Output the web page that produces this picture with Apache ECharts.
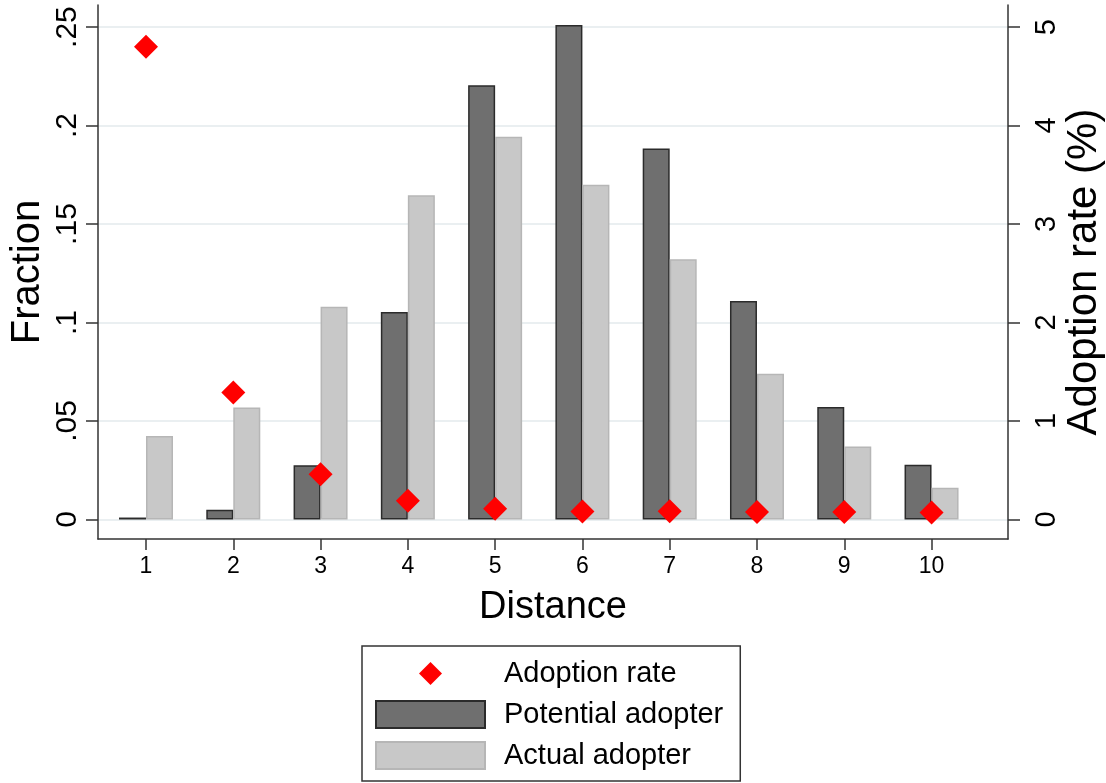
<!DOCTYPE html>
<html>
<head>
<meta charset="utf-8">
<script src="https://cdn.jsdelivr.net/npm/echarts@6/dist/echarts.min.js"></script>
<style>html,body{margin:0;padding:0;background:#fff;}#chart{width:1106px;height:783px;}</style>
</head>
<body>
<div id="chart"></div>
<script>
// ---- data ----
const distances = [1, 2, 3, 4, 5, 6, 7, 8, 9, 10];
const potentialAdopter = [0.001, 0.005, 0.0275, 0.1053, 0.2204, 0.2510, 0.1884, 0.1109, 0.0571, 0.0278];
const actualAdopter = [0.0424, 0.0568, 0.1080, 0.1646, 0.1943, 0.1700, 0.1321, 0.0740, 0.0370, 0.0161];
const adoptionRate = [4.80, 1.29, 0.46, 0.19, 0.11, 0.08, 0.085, 0.075, 0.075, 0.07];
const fractionTicks = [0, 0.05, 0.1, 0.15, 0.2, 0.25];
const fractionTickLabels = ['0', '.05', '.1', '.15', '.2', '.25'];
const rateTicks = [0, 1, 2, 3, 4, 5];
const distanceTicks = [1, 2, 3, 4, 5, 6, 7, 8, 9, 10];

const FONT = '"Liberation Sans", Arial, sans-serif';
const pairs = (xs, ys) => xs.map((x, i) => [x, ys[i]]);
const fracLabel = v => {
  const i = fractionTicks.findIndex(t => Math.abs(t - v) < 1e-9);
  return i >= 0 ? fractionTickLabels[i] : '';
};

// legend icon for the diamond marker: a small diamond centred in the swatch box
const diamondIcon = 'image://data:image/svg+xml;charset=utf-8,' + encodeURIComponent(
  '<svg xmlns="http://www.w3.org/2000/svg" width="109" height="27" viewBox="0 0 109 27">' +
  '<polygon points="54.5,2 66,13.5 54.5,25 43,13.5" fill="#ff0000"/></svg>');

const chart = echarts.init(document.getElementById('chart'), null, {renderer: 'canvas'});
const axisLineStyle = {color: '#333', width: 1.5};
const gridLineStyle = {color: '#e3eaec', width: 1.5};

chart.setOption({
  backgroundColor: '#ffffff',
  animation: false,
  grid: {left: 98, right: 98, top: 5, bottom: 244, containLabel: false, outerBoundsMode: 'none'},
  xAxis: {
    type: 'value',
    min: 0.45, max: 10.876,
    name: 'Distance',
    nameLocation: 'middle',
    nameGap: 50,
    nameTextStyle: {fontFamily: FONT, fontSize: 38, color: '#000'},
    axisLine: {show: true, onZero: false, lineStyle: axisLineStyle},
    axisTick: {show: true, length: 11, lineStyle: axisLineStyle, customValues: distanceTicks},
    axisLabel: {fontFamily: FONT, fontSize: 23, color: '#000', margin: 16, customValues: distanceTicks},
    splitLine: {show: false}
  },
  yAxis: [{
    type: 'value',
    position: 'left',
    min: -0.0099, max: 0.2612,
    name: 'Fraction',
    nameLocation: 'middle',
    nameGap: 50,
    nameRotate: 90,
    nameMoveOverlap: false,
    nameTextStyle: {fontFamily: FONT, fontSize: 40, color: '#000'},
    axisLine: {show: true, onZero: false, lineStyle: axisLineStyle},
    axisTick: {show: true, length: 12, lineStyle: axisLineStyle, customValues: fractionTicks},
    axisLabel: {fontFamily: FONT, fontSize: 30, color: '#000', rotate: 90, margin: 15,
      customValues: fractionTicks, formatter: fracLabel},
    splitLine: {show: true, lineStyle: gridLineStyle, customValues: fractionTicks}
  }, {
    type: 'value',
    position: 'right',
    min: -0.198, max: 5.224,
    name: 'Adoption rate (%)',
    nameLocation: 'middle',
    nameGap: 55,
    nameRotate: 90,
    nameMoveOverlap: false,
    nameTextStyle: {fontFamily: FONT, fontSize: 42, color: '#000'},
    axisLine: {show: true, onZero: false, lineStyle: axisLineStyle},
    axisTick: {show: true, length: 12, lineStyle: axisLineStyle, customValues: rateTicks},
    axisLabel: {fontFamily: FONT, fontSize: 29, color: '#000', rotate: 90, margin: 24,
      customValues: rateTicks},
    splitLine: {show: false}
  }],
  legend: {
    orient: 'vertical',
    left: 362, top: 646, height: 112,
    padding: [13, 17, 11, 13],
    itemWidth: 109, itemHeight: 27, itemGap: 12,
    borderColor: '#333', borderWidth: 1.5,
    textStyle: {fontFamily: FONT, fontSize: 29, lineHeight: 27, color: '#000', padding: [0, 0, 0, 14]},
    data: [
      {name: 'Adoption rate', icon: diamondIcon},
      {name: 'Potential adopter', icon: 'rect'},
      {name: 'Actual adopter', icon: 'rect'}
    ]
  },
  series: [{
    name: 'Potential adopter',
    type: 'bar',
    data: pairs(distances, potentialAdopter),
    barWidth: 27, barGap: '0%',
    itemStyle: {color: '#6f6f6f', borderColor: '#2b2b2b', borderWidth: 1.5},
    z: 2
  }, {
    name: 'Actual adopter',
    type: 'bar',
    data: pairs(distances, actualAdopter),
    barWidth: 27, barGap: '0%',
    itemStyle: {color: '#c8c8c8', borderColor: '#b6b6b6', borderWidth: 1.5},
    z: 2
  }, {
    name: 'Adoption rate',
    type: 'scatter',
    yAxisIndex: 1,
    data: pairs(distances, adoptionRate),
    symbol: 'diamond',
    symbolSize: 24,
    itemStyle: {color: '#ff0000', opacity: 1},
    z: 5
  }]
});
</script>
</body>
</html>
